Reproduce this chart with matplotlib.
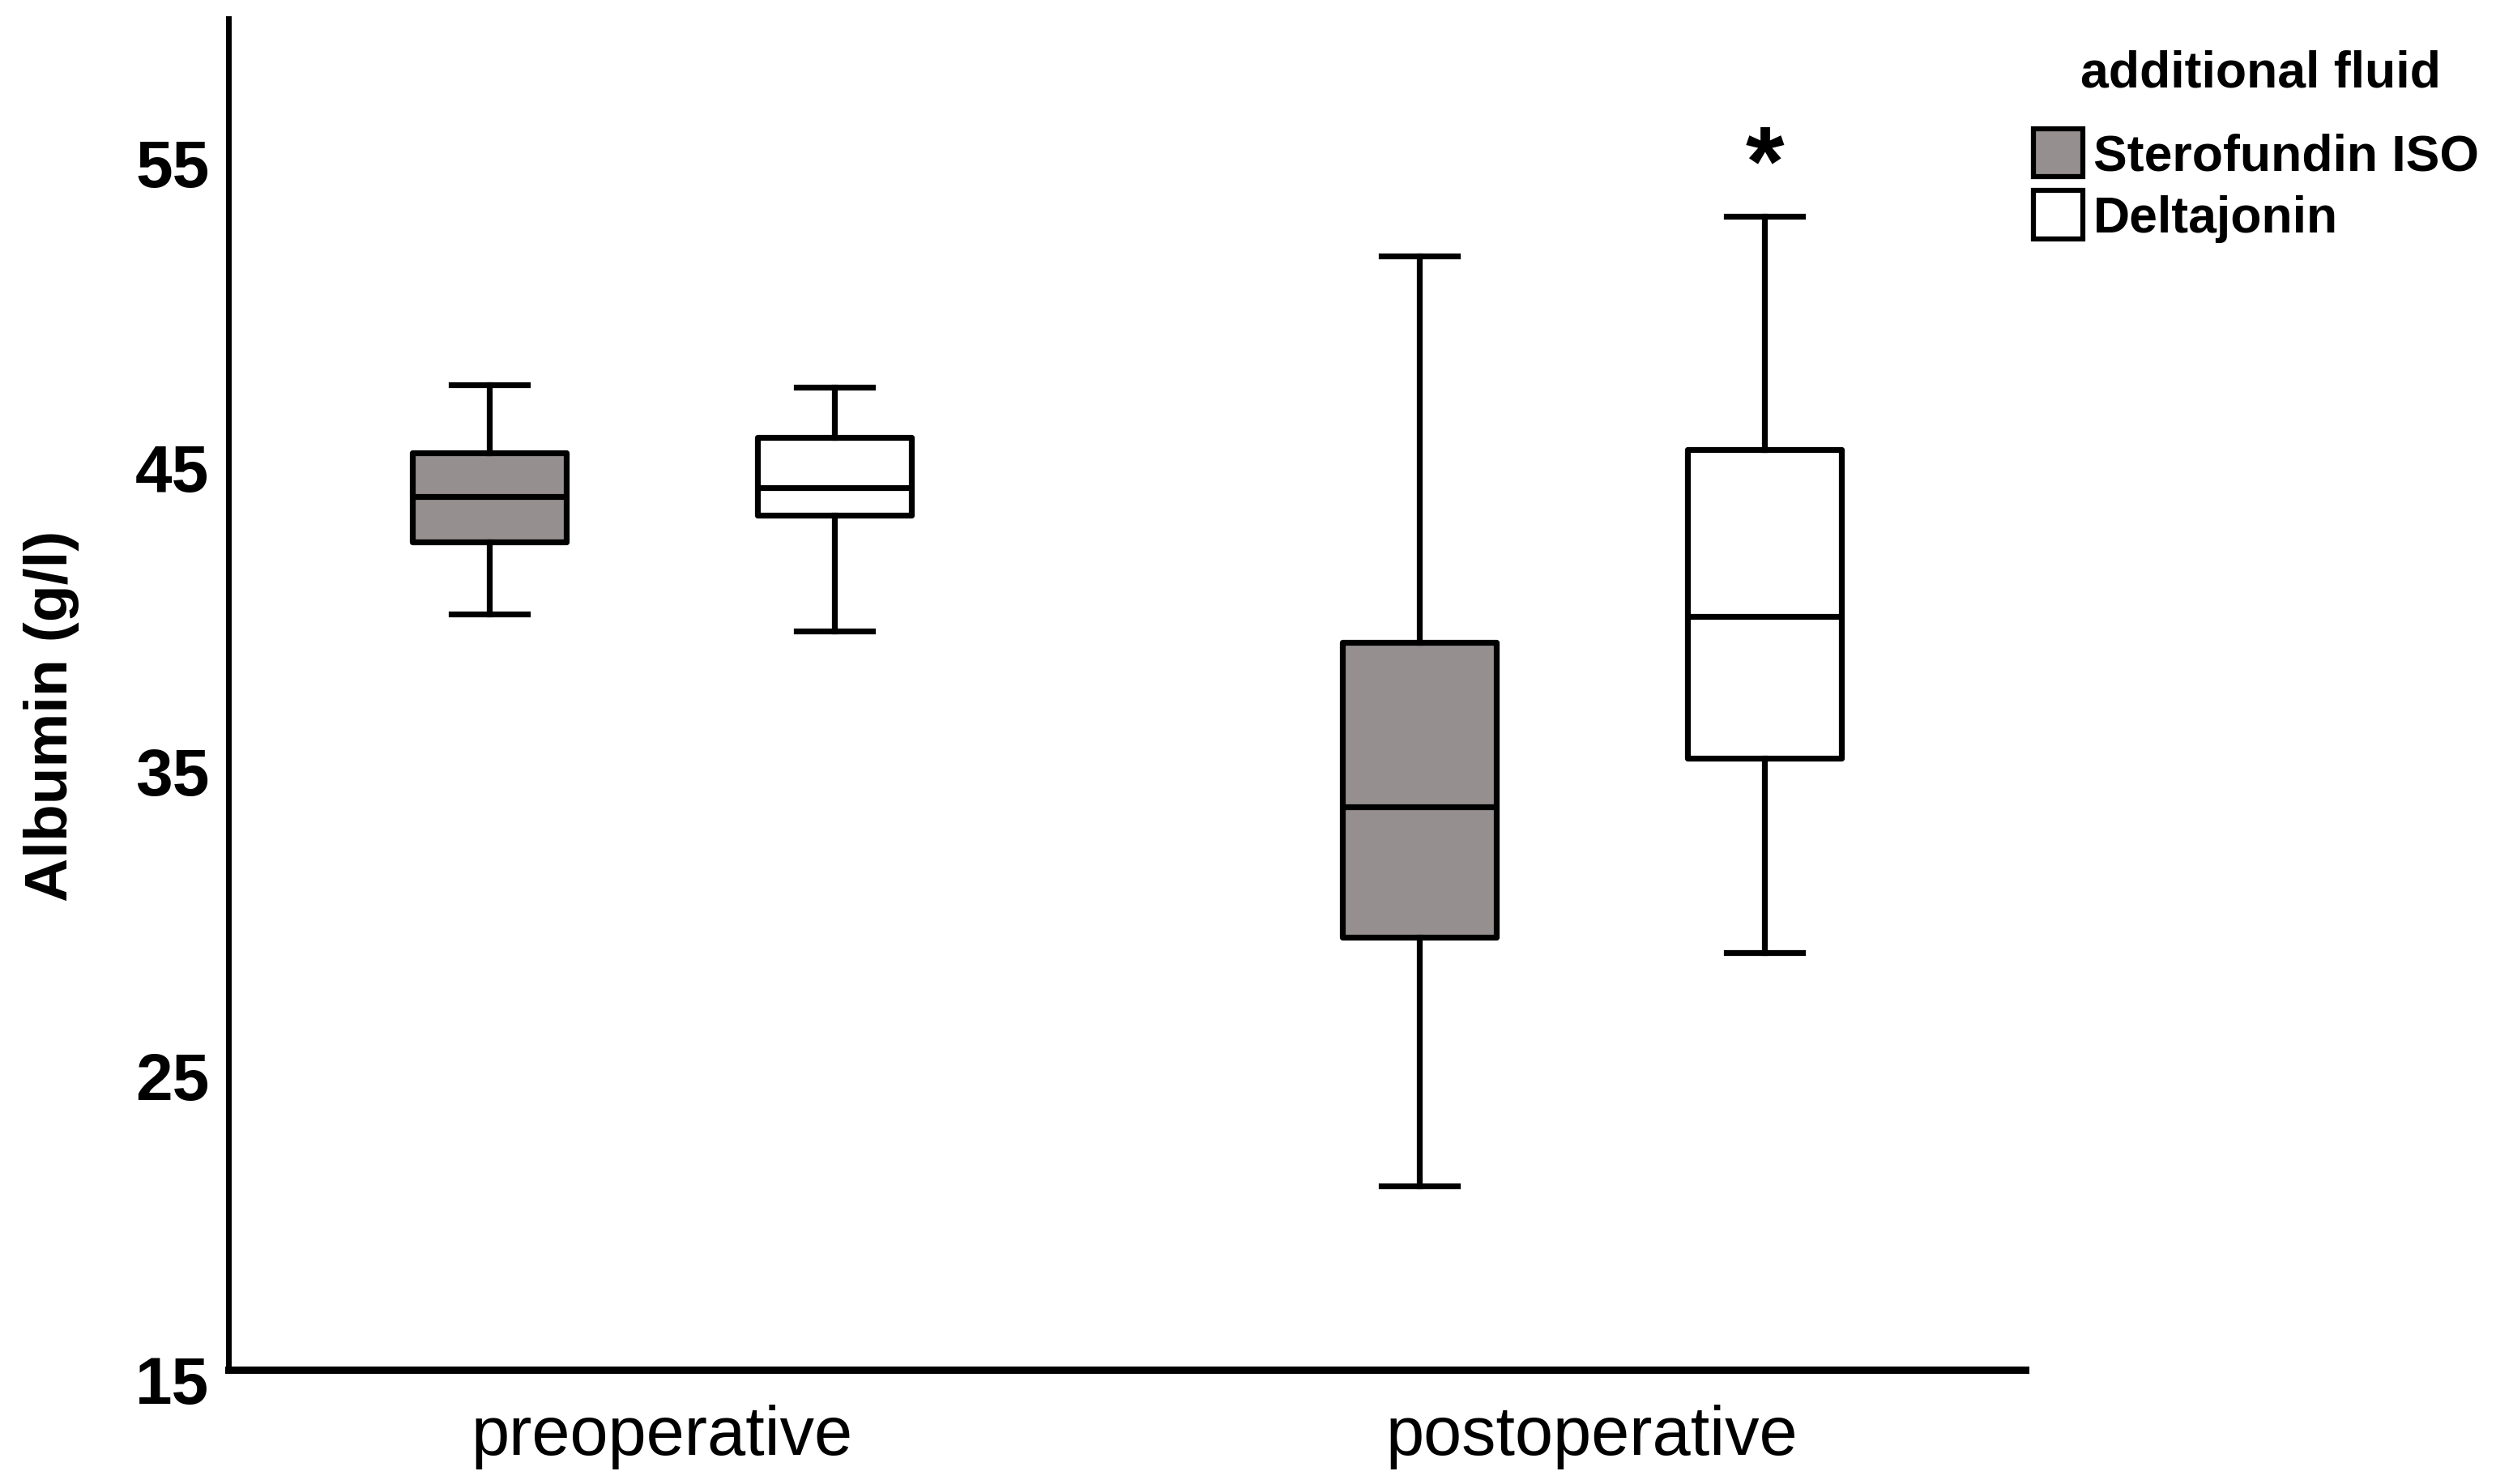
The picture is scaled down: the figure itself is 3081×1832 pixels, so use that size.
import matplotlib
matplotlib.use("Agg")
import matplotlib.pyplot as plt
import matplotlib.transforms as mtransforms
from matplotlib.patches import Patch

plt.rcParams['font.family'] = ['Liberation Sans', 'DejaVu Sans']

# ---- data ----
categories = ["preoperative", "postoperative"]
groups = ["Sterofundin ISO", "Deltajonin"]
group_colors = ["#968f8f", "#ffffff"]
legend_title = "additional fluid"

# [preoperative, postoperative]
sterofundin_whislo = [39.85, 21.05]
sterofundin_q1     = [42.22, 29.22]
sterofundin_med    = [43.71, 33.51]
sterofundin_q3     = [45.15, 38.91]
sterofundin_whishi = [47.38, 51.62]

deltajonin_whislo = [39.29, 28.71]
deltajonin_q1     = [43.10, 35.11]
deltajonin_med    = [44.00, 39.77]
deltajonin_q3     = [45.65, 45.25]
deltajonin_whishi = [47.30, 52.92]

y_ticks = [15, 25, 35, 45, 55]
asterisk_value = 54.5

# ---- figure ----
fig = plt.figure(figsize=(30.81, 18.33), dpi=100)
ax = fig.add_axes([282/3081, 141/1833, (2500-282)/3081, (1692-24)/1833])

offset = 0.1855
box_w = 0.166
cap_w = 0.082
lw = 5.2

series = [
    (sterofundin_whislo, sterofundin_q1, sterofundin_med, sterofundin_q3, sterofundin_whishi),
    (deltajonin_whislo, deltajonin_q1, deltajonin_med, deltajonin_q3, deltajonin_whishi),
]

for gi, (wlo, q1, med, q3, whi) in enumerate(series):
    stats = []
    positions = []
    for ci in range(len(categories)):
        stats.append(dict(whislo=wlo[ci], q1=q1[ci], med=med[ci], q3=q3[ci],
                          whishi=whi[ci], fliers=[]))
        positions.append(ci + (gi - 0.5) * 2 * offset)
    ax.bxp(stats, positions=positions, widths=box_w, capwidths=cap_w,
           patch_artist=True, showfliers=False, manage_ticks=False,
           boxprops=dict(facecolor=group_colors[gi], edgecolor='black',
                         linewidth=lw, joinstyle='round'),
           whiskerprops=dict(color='black', linewidth=lw),
           capprops=dict(color='black', linewidth=lw),
           medianprops=dict(color='black', linewidth=lw))

ax.set_xlim(-0.466, 1.466)
ax.set_ylim(15, 59.42)

ax.set_xticks(range(len(categories)))
ax.set_xticklabels(categories, fontsize=61)
ax.set_yticks(y_ticks)
ax.set_yticklabels([str(t) for t in y_ticks], fontsize=59, fontweight='bold')
ax.tick_params(axis='both', length=0)
ax.tick_params(axis='x', pad=30)
ax.tick_params(axis='y', pad=17)

shift = mtransforms.ScaledTranslation(0, -12/100, fig.dpi_scale_trans)
for lab in ax.get_yticklabels():
    lab.set_transform(lab.get_transform() + shift)

for s in ['top', 'right']:
    ax.spines[s].set_visible(False)
ax.spines['left'].set_linewidth(5)
ax.spines['bottom'].set_linewidth(6.5)

ax.set_ylabel("Albumin (g/l)", fontsize=54, fontweight='bold', va='center')
ax.yaxis.set_label_coords(-0.0987, 0.4844)

ax.text(1 + offset, asterisk_value, "*", fontsize=88, fontweight='bold',
        ha='center', va='center')

# legend (title drawn as separate text above the entries)
fig.text(2790/3081, 1 - 91/1833, legend_title, fontsize=45, fontweight='bold',
         ha='center', va='center')
handles = [Patch(facecolor=c, edgecolor='black', linewidth=4.5) for c in group_colors]
leg = fig.legend(handles, groups,
                 loc='upper left', bbox_to_anchor=(2510/3081, 1 - 160/1833),
                 frameon=False, prop=dict(size=45, weight='bold'),
                 handlelength=0.98, handleheight=1.08, handletextpad=0.2,
                 labelspacing=0.2, borderpad=0, borderaxespad=0)

fig.savefig("out.png", dpi=100)
